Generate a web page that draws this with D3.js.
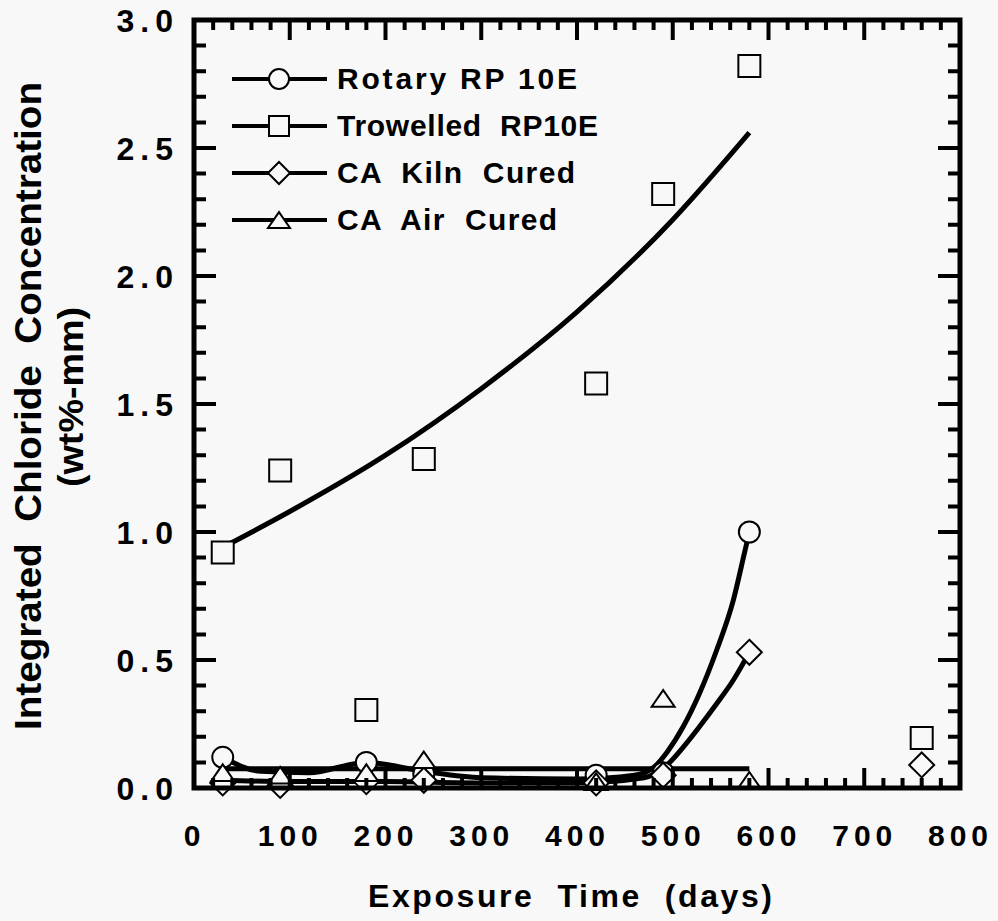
<!DOCTYPE html>
<html>
<head>
<meta charset="utf-8">
<script src="https://cdn.jsdelivr.net/npm/d3@7"></script>
<style>
  body { margin: 0; background: #f8f8f8; }
  text { font-family: "Liberation Sans", Arial, Helvetica, sans-serif; font-weight: bold; fill: #000; }
</style>
</head>
<body>
<script>
// measured points (days vs integrated chloride, wt%-mm)
var days = [30, 90, 180, 240, 420, 490, 580, 760];
var rotary = [0.12, null, 0.10, 0.055, 0.05, 0.06, 1.00, null];
var trowelled = [0.92, 1.24, 0.305, 1.285, 1.58, 2.32, 2.82, 0.195];
var kiln = [0.02, 0.01, 0.025, 0.03, 0.02, 0.05, 0.53, 0.09];
var air = [0.06, 0.05, 0.06, 0.11, 0.025, 0.35, 0.03, null];

// fitted curves
var rotaryFitDays = [30, 70, 120, 180, 240, 300, 400, 460, 480, 494, 511, 528, 546, 563, 575, 580];
var rotaryFit = [0.12, 0.065, 0.06, 0.10, 0.065, 0.04, 0.035, 0.05, 0.08, 0.14, 0.24, 0.37, 0.54, 0.73, 0.92, 1.0];
var trowelledFitDays = [30, 100, 200, 300, 400, 500, 580];
var trowelledFit = [0.94, 1.08, 1.30, 1.56, 1.86, 2.22, 2.56];
var kilnFitDays = [30, 100, 200, 300, 400, 470, 494, 511, 528, 546, 563, 580];
var kilnFit = [0.03, 0.025, 0.025, 0.02, 0.02, 0.04, 0.09, 0.16, 0.24, 0.33, 0.42, 0.53];
var airFitDays = [30, 580];
var airFit = [0.075, 0.075];

var seriesNames = ["Rotary RP 10E", "Trowelled  RP10E", "CA  Kiln  Cured", "CA  Air  Cured"];
var xTicks = [0, 100, 200, 300, 400, 500, 600, 700, 800];
var xMinor = [20, 40, 60, 80, 120, 140, 160, 180, 220, 240, 260, 280, 320, 340, 360, 380,
  420, 440, 460, 480, 520, 540, 560, 580, 620, 640, 660, 680, 720, 740, 760, 780];
var yTicks = [0, 0.5, 1.0, 1.5, 2.0, 2.5, 3.0];
var yMinor = [0.1, 0.2, 0.3, 0.4, 0.6, 0.7, 0.8, 0.9, 1.1, 1.2, 1.3, 1.4, 1.6, 1.7, 1.8, 1.9,
  2.1, 2.2, 2.3, 2.4, 2.6, 2.7, 2.8, 2.9];

var svg = d3.select("body").append("svg")
  .attr("width", 998)
  .attr("height", 921);

var xScale = d3.scaleLinear().domain([0, 800]).range([194, 960]);
var yScale = d3.scaleLinear().domain([0, 3]).range([788, 20]);

// marker shapes
var diamondType = {
  draw: function(ctx, size) {
    var r = Math.sqrt(size / 2);
    ctx.moveTo(0, -r); ctx.lineTo(r, 0); ctx.lineTo(0, r); ctx.lineTo(-r, 0); ctx.closePath();
  }
};
var triangleType = {
  draw: function(ctx, size) {
    var w = Math.sqrt(size), h = w * 0.72;
    ctx.moveTo(0, -h / 2); ctx.lineTo(w / 2, h / 2); ctx.lineTo(-w / 2, h / 2); ctx.closePath();
  }
};
var shapes = [
  d3.symbol(d3.symbolCircle, Math.PI * 10.5 * 10.5),
  d3.symbol(d3.symbolSquare, 22 * 22),
  d3.symbol(diamondType, 2 * 12.5 * 12.5),
  d3.symbol(triangleType, 23 * 23)
];
var legendShapes = [
  d3.symbol(d3.symbolCircle, Math.PI * 10 * 10),
  d3.symbol(d3.symbolSquare, 20 * 20),
  d3.symbol(diamondType, 2 * 11 * 11),
  d3.symbol(triangleType, 22 * 22)
];

// fitted curves
var fitLine = d3.line()
  .x(function(d) { return xScale(d[0]); })
  .y(function(d) { return yScale(d[1]); })
  .curve(d3.curveMonotoneX);

var fits = [
  d3.zip(rotaryFitDays, rotaryFit),
  d3.zip(trowelledFitDays, trowelledFit),
  d3.zip(kilnFitDays, kilnFit),
  d3.zip(airFitDays, airFit)
];
var curves = svg.append("g");
fits.forEach(function(f) {
  curves.append("path")
    .attr("d", fitLine(f))
    .attr("fill", "none")
    .attr("stroke", "#000")
    .attr("stroke-width", 5);
});

// markers: squares, circles, diamonds, triangles on top
var seriesVals = [rotary, trowelled, kiln, air];
[1, 0, 2, 3].forEach(function(s) {
  var pts = days.map(function(d, i) { return [d, seriesVals[s][i]]; })
    .filter(function(p) { return p[1] != null; });
  svg.append("g").selectAll("path")
    .data(pts)
    .enter().append("path")
    .attr("d", shapes[s]())
    .attr("transform", function(p) { return "translate(" + xScale(p[0]) + "," + yScale(p[1]) + ")"; })
    .attr("fill", "#f8f8f8")
    .attr("stroke", "#000")
    .attr("stroke-width", 2);
});

// legend
var legendWidths = [240, 261, 238, 220];
var legend = svg.append("g");
seriesNames.forEach(function(name, i) {
  var ly = 79 + i * 47;
  legend.append("line")
    .attr("x1", 232).attr("x2", 327).attr("y1", ly).attr("y2", ly)
    .attr("stroke", "#000").attr("stroke-width", 4);
  legend.append("path")
    .attr("d", legendShapes[i]())
    .attr("transform", "translate(279," + ly + ")")
    .attr("fill", "#f8f8f8").attr("stroke", "#000").attr("stroke-width", 2);
  legend.append("text")
    .attr("x", 337).attr("y", ly + 10)
    .attr("textLength", legendWidths[i])
    .attr("lengthAdjust", "spacing")
    .style("font-size", "30px")
    .style("white-space", "pre")
    .text(name);
});

// axis titles
svg.append("text")
  .attr("x", 570).attr("y", 907)
  .attr("text-anchor", "middle")
  .attr("textLength", 404)
  .attr("lengthAdjust", "spacing")
  .style("font-size", "32px")
  .style("white-space", "pre")
  .text("Exposure  Time  (days)");

svg.append("text")
  .attr("transform", "translate(41,406) rotate(-90)")
  .attr("text-anchor", "middle")
  .attr("textLength", 648)
  .attr("lengthAdjust", "spacingAndGlyphs")
  .style("font-size", "37px")
  .style("white-space", "pre")
  .text("Integrated  Chloride  Concentration");

svg.append("text")
  .attr("transform", "translate(83,397) rotate(-90)")
  .attr("text-anchor", "middle")
  .attr("textLength", 180)
  .attr("lengthAdjust", "spacingAndGlyphs")
  .style("font-size", "35px")
  .text("(wt%-mm)");

// tick labels through d3 axes (tick lines drawn below)
var xAxisG = svg.append("g").attr("transform", "translate(0,788)")
  .call(d3.axisBottom(xScale).tickValues(xTicks).tickSize(0).tickFormat(d3.format("d")));
xAxisG.select(".domain").remove();
xAxisG.selectAll(".tick line").remove();
xAxisG.selectAll("text")
  .attr("y", 58).attr("dy", 0).attr("fill", "#000")
  .style("font-size", "30px").style("letter-spacing", "5px");

var yAxisG = svg.append("g").attr("transform", "translate(194,0)")
  .call(d3.axisLeft(yScale).tickValues(yTicks).tickSize(0).tickFormat(d3.format(".1f")));
yAxisG.select(".domain").remove();
yAxisG.selectAll(".tick line").remove();
yAxisG.selectAll("text")
  .attr("x", -15).attr("dy", "0.36em").attr("fill", "#000")
  .style("font-size", "32px").style("letter-spacing", "6px");

// frame
svg.append("rect")
  .attr("x", xScale(0)).attr("y", yScale(3))
  .attr("width", xScale(800) - xScale(0)).attr("height", yScale(0) - yScale(3))
  .attr("fill", "none").attr("stroke", "#000").attr("stroke-width", 5);

// inward tick marks on all four sides, one path per set
function tickPath(values, scale, vertical, len) {
  var p = d3.path();
  values.forEach(function(v) {
    var c = scale(v);
    if (vertical) {
      p.moveTo(c, yScale(0)); p.lineTo(c, yScale(0) - len);
      p.moveTo(c, yScale(3)); p.lineTo(c, yScale(3) + len);
    } else {
      p.moveTo(xScale(0), c); p.lineTo(xScale(0) + len, c);
      p.moveTo(xScale(800), c); p.lineTo(xScale(800) - len, c);
    }
  });
  svg.append("path")
    .attr("d", p.toString())
    .attr("fill", "none")
    .attr("stroke", "#000")
    .attr("stroke-width", 4);
}
tickPath(xMinor, xScale, true, 10);
tickPath(xTicks, xScale, true, 20);
tickPath(yMinor, yScale, false, 12);
tickPath(yTicks, yScale, false, 22);
</script>
</body>
</html>
